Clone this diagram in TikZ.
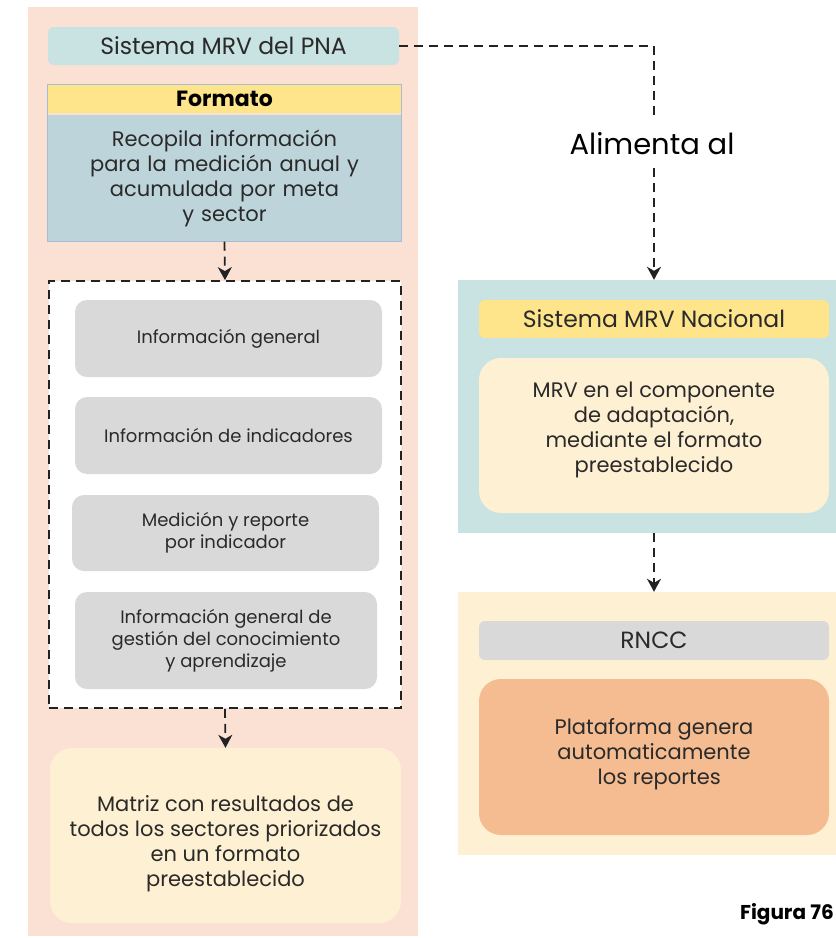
\documentclass[tikz,border=0pt]{standalone}
\usepackage{fontspec}
\setmainfont{Poppins}
\usetikzlibrary{arrows.meta}
\definecolor{pinkbg}{HTML}{FBE0D4}
\definecolor{tealbg}{HTML}{C9E2E2}
\definecolor{yellowhd}{HTML}{FEE58C}
\definecolor{bluebody}{HTML}{BDD4DA}
\definecolor{graybox}{HTML}{D9D9D9}
\definecolor{creambox}{HTML}{FEF0D2}
\definecolor{orangebox}{HTML}{F4BC90}
\definecolor{txt}{HTML}{2A2A2A}
\definecolor{lnk}{HTML}{222222}
\definecolor{frameblue}{HTML}{A9BCD6}
\tikzset{
  box/.style={inner sep=0pt, align=center, text=txt, font=\fontsize{21}{25}\selectfont},
  panel/.style={box, fill=#1},
  headfont/.style={font=\fontsize{23.5}{27}\selectfont},
  smallbox/.style={box, fill=graybox, rounded corners=12pt, font=\fontsize{18}{22}\selectfont},
  dline/.style={draw=lnk, line width=1.8pt, dash pattern=on 9pt off 6pt},
  darrow/.style={dline, -{Stealth[length=13pt,width=14pt,inset=4pt]}},
}
\begin{document}
\begin{tikzpicture}[x=1pt,y=-1pt]
\useasboundingbox (0,0) rectangle (836,938);
% left panel
\node[panel=pinkbg, minimum width=390, minimum height=929] (lp) at (223,471.5) {};
\node[panel=tealbg, rounded corners=6pt, minimum width=351, minimum height=38, headfont] (pna) at (223.5,46) {Sistema MRV del PNA};
\node[panel=bluebody, minimum width=353, minimum height=127, text width=340] (fbody) at (224.5,178) {Recopila información\\para la medición anual y\\acumulada por meta\\y sector};
\node[panel=yellowhd, minimum width=353, minimum height=28, font=\fontsize{22}{24}\selectfont\bfseries, text=black] (fhead) at (224.5,99) {Formato};
\draw[frameblue, line width=0.8pt] (fhead.north west) rectangle (fbody.south east);
\node[panel=white, dline, minimum width=352, minimum height=427] (dbox) at (225,494.5) {};
\node[smallbox, minimum width=307, minimum height=77] (g1) at (228.5,338.5) {Información general};
\node[smallbox, minimum width=307, minimum height=77] (g2) at (228.5,435.5) {Información de indicadores};
\node[smallbox, minimum width=307, minimum height=76] (g3) at (225.5,533) {Medición y reporte\\por indicador};
\node[smallbox, minimum width=302, minimum height=97] (g4) at (226,640.5) {Información general de\\gestión del conocimiento\\y aprendizaje};
\node[panel=creambox, rounded corners=22pt, minimum width=351, minimum height=175] (mat) at (225.5,835.5) {\strut\\[-11pt]Matriz con resultados de\\todos los sectores priorizados\\en un formato\\preestablecido};
% right top panel
\node[panel=tealbg, minimum width=378, minimum height=253] (rt) at (647,406.5) {};
\node[panel=yellowhd, rounded corners=6pt, minimum width=350, minimum height=38, headfont] (nac) at (654,319) {Sistema MRV Nacional};
\node[panel=creambox, rounded corners=22pt, minimum width=350, minimum height=155] (comp) at (654,435.5) {MRV en el componente\\de adaptación,\\mediante el formato\\preestablecido\\[-8pt]\mbox{}};
% right bottom panel
\node[panel=creambox, minimum width=378, minimum height=263] (rb) at (647,723.5) {};
\node[panel=graybox, rounded corners=6pt, minimum width=350, minimum height=39, headfont] (rncc) at (654,640.5) {RNCC};
\node[panel=orangebox, rounded corners=22pt, minimum width=350, minimum height=156] (plat) at (654,757) {Plataforma genera\\automaticamente\hspace{0.4em}\\\hspace{0.5em}los reportes\\[-14pt]\mbox{}};
% label
\node[inner sep=0pt, minimum height=48, font=\fontsize{29}{32}\selectfont, text=black] (alim) at (652,144) {Alimenta al};
\node[inner sep=0pt, anchor=east, font=\fontsize{20}{22}\selectfont\bfseries, text=black] (fig) at (834,914) {Figura 76};
% connectors
\draw[dline] (pna.east) -| (alim.north -| nac.north);
\draw[darrow] (alim.south -| nac.north) -- (nac.north |- rt.north);
\draw[darrow] (fbody.south) -- (dbox.north);
\draw[darrow] (dbox.south) -- (mat.north);
\draw[darrow] (nac.south |- rt.south) -- (nac.north |- rb.north);
\end{tikzpicture}
\end{document}
